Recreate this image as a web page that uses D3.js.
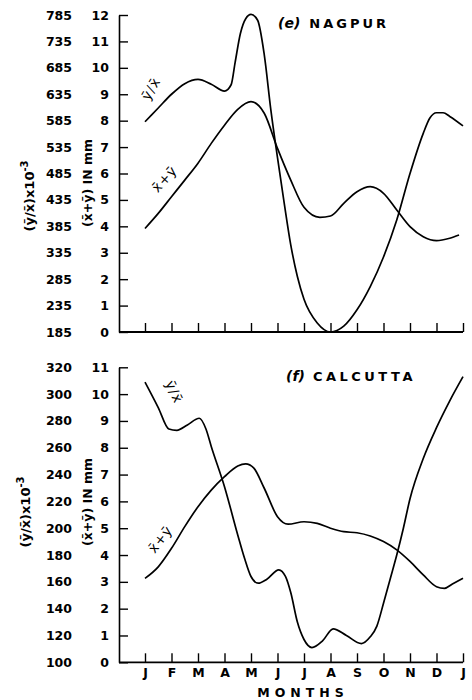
<!DOCTYPE html>
<html>
<head>
<meta charset="utf-8">
<script src="https://cdn.jsdelivr.net/npm/d3@7"></script>
<style>
  html, body { margin: 0; padding: 0; background: #fff; }
  svg { display: block; }
  text { font-family: "DejaVu Sans", sans-serif; fill: #000; }
</style>
</head>
<body>
<div id="chart"></div>
<script>
// ---------- DATA ----------
const monthLabels = ["J","F","M","A","M","J","J","A","S","O","N","D","J"];
const monthPositions = d3.range(13);

// Nagpur
const nagpurInnerTicks = d3.range(0, 13);                 // (x+y) in mm
const nagpurOuterTicks = d3.range(185, 786, 50);          // (y/x) x10^-3
const nagpurRatioMonth = [0,0.5,1,1.5,2,2.5,3,3.25,3.4,3.6,3.8,4,4.25,4.5,4.75,5,5.25,5.5,5.75,6,6.5,7,7.5,8,8.5,9,9.5,10,10.5,10.75,11,11.25,11.5,12];
const nagpurRatio      = [583,609,635,655,663,654,641,653,695,750,778,786,775,710,605,515,430,350,290,247,202,185,196,227,271,327,397,485,561,590,600,600,593,575];
const nagpurSumMonth   = [0,0.5,1,1.5,2,2.5,3,3.5,4,4.5,5,5.5,6,6.6,7,7.5,8,8.5,9,9.5,10,10.5,11,11.5,11.85];
const nagpurSum        = [3.92,4.49,5.12,5.75,6.39,7.14,7.83,8.43,8.72,8.28,6.95,5.75,4.72,4.34,4.39,4.87,5.31,5.50,5.25,4.62,3.99,3.61,3.46,3.55,3.67];

// Calcutta
const calcuttaInnerTicks = d3.range(0, 12);
const calcuttaOuterTicks = d3.range(100, 321, 20);
const calcuttaRatioMonth = [0,0.5,0.9,1.2,1.6,2.05,2.3,2.5,3,3.5,3.75,4,4.27,4.6,5.05,5.3,5.5,5.75,6,6.3,6.7,7.1,7.6,8.17,8.5,8.75,9,9.25,9.5,9.75,10,10.5,11,11.5,12];
const calcuttaRatio      = [309,290,274,273,277,282,274,261,231,195,178,164,159,162,169,164,152,130,117,111,116,125,120,114,119,127,144,162,180,200,222,252,275,295,313];
const calcuttaSumMonth   = [0,0.5,1,1.5,2,2.5,3,3.5,3.8,4.1,4.5,5,5.4,6,6.5,7,7.5,8,8.5,9,9.5,10,10.5,11,11.3,11.6,12];
const calcuttaSum        = [3.13,3.56,4.25,5.06,5.80,6.42,6.92,7.32,7.40,7.25,6.49,5.43,5.15,5.24,5.18,5.00,4.87,4.83,4.71,4.50,4.19,3.76,3.26,2.82,2.76,2.92,3.13];

// ---------- DRAW ----------
const W = 472, H = 700;
const svg = d3.select("#chart").append("svg").attr("width", W).attr("height", H);

const axisX = 119;
const x = d3.scaleLinear().domain([0, 12]).range([145, 463]);

function panel(cfg) {
  const g = svg.append("g");
  const yIn = d3.scaleLinear().domain([0, cfg.innerMax]).range([cfg.y0, cfg.y1]);
  const yOut = d3.scaleLinear().domain([cfg.outerMin, cfg.outerMax]).range([cfg.y0, cfg.y1]);

  // inner y-axis (ticks pointing inward)
  const ax = g.append("g").attr("transform", `translate(${axisX},0)`)
    .call(d3.axisLeft(yIn).tickValues(cfg.innerTicks).tickSizeInner(-9).tickSizeOuter(0).tickPadding(10).tickFormat(d3.format("d")));
  ax.select(".domain").attr("stroke", "#000").attr("stroke-width", 1.6);
  ax.selectAll(".tick line").attr("stroke", "#000").attr("stroke-width", 1.4);
  ax.selectAll("text").attr("font-size", 12.5).attr("font-weight", "bold").attr("font-family", "DejaVu Sans");

  // outer y labels
  const ax2 = g.append("g").attr("transform", `translate(${axisX},0)`)
    .call(d3.axisLeft(yOut).tickValues(cfg.outerTicks).tickSize(0).tickPadding(47).tickFormat(d3.format("d")));
  ax2.select(".domain").remove();
  ax2.selectAll("text").attr("font-size", 12.5).attr("font-weight", "bold").attr("font-family", "DejaVu Sans");

  // x-axis
  g.append("line").attr("x1", axisX).attr("x2", x(12)).attr("y1", cfg.y0).attr("y2", cfg.y0)
    .attr("stroke", "#000").attr("stroke-width", 1.8);
  const xa = g.append("g").attr("transform", `translate(0,${cfg.y0})`)
    .call(d3.axisBottom(x).tickValues(monthPositions).tickSizeInner(-9).tickSizeOuter(0).tickPadding(6)
      .tickFormat(cfg.showMonths ? (d, i) => monthLabels[i] : () => ""));
  xa.select(".domain").remove();
  xa.selectAll(".tick line").attr("stroke", "#000").attr("stroke-width", 1.4);
  xa.selectAll("text").attr("font-size", 12.5).attr("font-weight", "bold").attr("font-family", "DejaVu Sans");

  // curves
  const lineOut = d3.line().x(d => x(d[0])).y(d => yOut(d[1])).curve(d3.curveMonotoneX);
  const lineIn = d3.line().x(d => x(d[0])).y(d => yIn(d[1])).curve(d3.curveMonotoneX);
  g.append("path").attr("d", lineOut(d3.zip(cfg.ratioMonth, cfg.ratio)))
    .attr("fill", "none").attr("stroke", "#000").attr("stroke-width", 1.7);
  g.append("path").attr("d", lineIn(d3.zip(cfg.sumMonth, cfg.sum)))
    .attr("fill", "none").attr("stroke", "#000").attr("stroke-width", 1.7);

  // axis titles
  const t1 = g.append("text").attr("transform", `translate(${cfg.outerTitleX},${cfg.outerTitleY}) rotate(-90)`)
    .attr("text-anchor", "middle").attr("font-size", 13).attr("font-weight", "bold");
  t1.append("tspan").text("(y\u0304/x\u0304)x10");
  t1.append("tspan").attr("dy", -6).attr("font-size", 10).text("-3");
  g.append("text").attr("transform", `translate(${cfg.innerTitleX},${cfg.innerTitleY}) rotate(-90)`)
    .attr("text-anchor", "middle").attr("font-size", 12.5).attr("font-weight", "bold")
    .text("(x\u0304+y\u0304) IN mm");

  // panel title
  const tt = g.append("text").attr("x", cfg.titleX).attr("y", cfg.titleY).attr("font-size", 13).attr("font-weight", "bold");
  tt.append("tspan").attr("font-style", "italic").attr("font-size", 14).text(cfg.titleTag);
  tt.append("tspan").attr("dx", cfg.titleGap).attr("letter-spacing", cfg.titleSpacing).text(cfg.titleName);

  // curve labels
  g.append("text").attr("transform", `translate(${cfg.ratioLabel[0]},${cfg.ratioLabel[1]}) rotate(${cfg.ratioLabel[2]})`)
    .attr("text-anchor", "middle").attr("font-size", 13.5).attr("letter-spacing", 1).text("y\u0304/x\u0304");
  g.append("text").attr("transform", `translate(${cfg.sumLabel[0]},${cfg.sumLabel[1]}) rotate(${cfg.sumLabel[2]})`)
    .attr("text-anchor", "middle").attr("font-size", 13.5).attr("letter-spacing", 1).text("x\u0304+y\u0304");
}

panel({
  y0: 332, y1: 15, innerMax: 12, outerMin: 185, outerMax: 785,
  innerTicks: nagpurInnerTicks, outerTicks: nagpurOuterTicks,
  ratioMonth: nagpurRatioMonth, ratio: nagpurRatio, sumMonth: nagpurSumMonth, sum: nagpurSum,
  showMonths: false,
  outerTitleX: 34, outerTitleY: 196, innerTitleX: 92, innerTitleY: 183,
  titleX: 278, titleY: 28, titleTag: "(e)", titleGap: 9, titleSpacing: 3, titleName: "NAGPUR",
  ratioLabel: [155, 91, -60], sumLabel: [168, 182, -48]
});

panel({
  y0: 662.3, y1: 367.3, innerMax: 11, outerMin: 100, outerMax: 320,
  innerTicks: calcuttaInnerTicks, outerTicks: calcuttaOuterTicks,
  ratioMonth: calcuttaRatioMonth, ratio: calcuttaRatio, sumMonth: calcuttaSumMonth, sum: calcuttaSum,
  showMonths: true,
  outerTitleX: 30, outerTitleY: 512, innerTitleX: 92, innerTitleY: 502,
  titleX: 286, titleY: 381, titleTag: "(f)", titleGap: 8, titleSpacing: 3.5, titleName: "CALCUTTA",
  ratioLabel: [170, 394, 65], sumLabel: [164, 542, -52]
});

svg.append("text").attr("x", 303).attr("y", 697).attr("text-anchor", "middle")
  .attr("font-size", 12.5).attr("font-weight", "bold").attr("letter-spacing", 5).text("MONTHS");
</script>
</body>
</html>
